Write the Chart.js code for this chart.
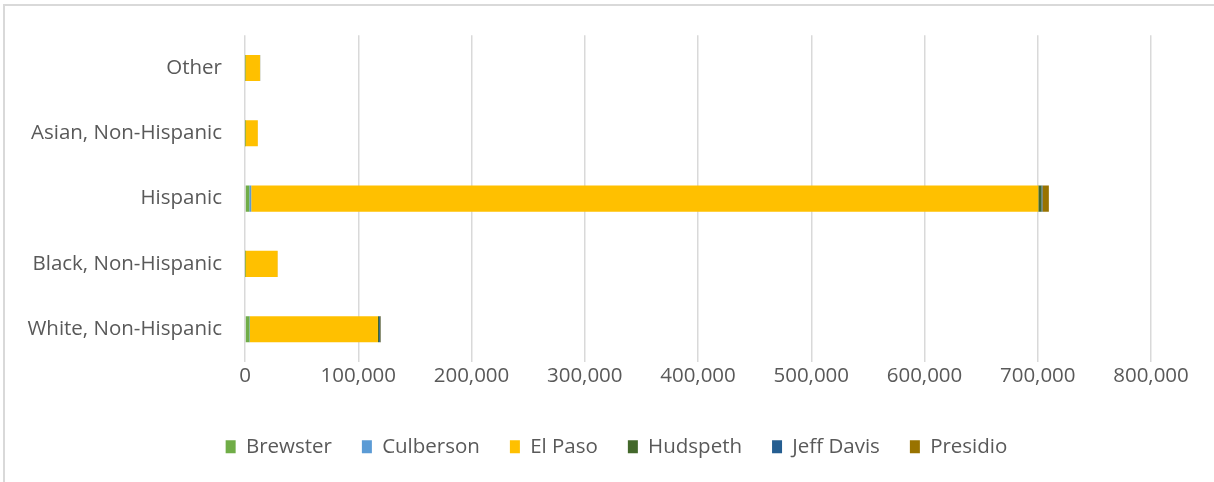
<!DOCTYPE html>
<html>
<head>
<meta charset="utf-8">
<script src="https://cdn.jsdelivr.net/npm/chart.js@4"></script>
<style>
  html, body { margin: 0; padding: 0; background: #fff; }
  #wrap { position: relative; width: 1214px; height: 482px; overflow: hidden; }
  #frame { position: absolute; left: 3px; top: 4px; width: 1300px; height: 600px;
           border-left: 2px solid #d9d9d9; border-top: 2px solid #d9d9d9; }
  #box { position: absolute; left: 0; top: 0; width: 1214px; height: 482px; }
</style>
</head>
<body>
<div id="wrap">
  <div id="frame"></div>
  <div id="box"><canvas id="race-county-bar"></canvas></div>
</div>
<script>
Chart.defaults.font.family = '"Open Sans", Lato, sans-serif'
Chart.defaults.font.size = 20.5
Chart.defaults.color = '#595959'

var groups = ['Other', 'Asian, Non-Hispanic', 'Hispanic', 'Black, Non-Hispanic', 'White, Non-Hispanic']

var brewster  = [200, 100, 3800, 100, 4000]
var culberson = [30, 20, 1700, 30, 400]
var elPaso    = [13000, 11200, 695000, 28700, 113000]
var hudspeth  = [60, 20, 2800, 50, 1000]
var jeffDavis = [40, 20, 800, 20, 1100]
var presidio  = [80, 30, 5700, 40, 500]

var xTicks = [0, 100000, 200000, 300000, 400000, 500000, 600000, 700000, 800000]

var data = {
labels: groups,
datasets: [
{ label: 'Brewster',   backgroundColor: '#70AD47', data: brewster },
{ label: 'Culberson',  backgroundColor: '#5B9BD5', data: culberson },
{ label: 'El Paso',    backgroundColor: '#FFC000', data: elPaso },
{ label: 'Hudspeth',   backgroundColor: '#43682B', data: hudspeth },
{ label: 'Jeff Davis', backgroundColor: '#255E91', data: jeffDavis },
{ label: 'Presidio',   backgroundColor: '#997300', data: presidio },
]
}

// centre the legend row between x = 82 and the right edge of the plot
var legendShift = {
	id: 'legendShift',
	afterLayout: function (chart) {
		chart.legend.left = 82
		chart.legend.right = chart.chartArea.right
	}
}

var context = document.getElementById('race-county-bar').getContext('2d')
var chart = new Chart(context, {
	type: 'bar',
	data: data,
	plugins: [legendShift],
	options: {
		indexAxis: 'y',
		responsive: true,
		maintainAspectRatio: false,
		animation: false,
		datasets: { bar: { categoryPercentage: 0.4, barPercentage: 1.0, borderWidth: 0 } },
		layout: { padding: { left: 0, right: 63, top: 34, bottom: 15 } },
		scales: {
			x: {
				stacked: true,
				min: xTicks[0],
				max: xTicks[xTicks.length - 1],
				afterBuildTicks: function (scale) { scale.ticks = xTicks.map(function (v) { return { value: v } }) },
				afterFit: function (scale) { scale.height += 16 },
				grid: { color: '#d9d9d9', lineWidth: 1.5, drawTicks: false },
				border: { display: false },
				ticks: {
					padding: 2,
					maxRotation: 0,
					callback: function (v) { return v.toLocaleString('en-US') }
				}
			},
			y: {
				stacked: true,
				afterFit: function (scale) { scale.width = 245 },
				grid: { display: false, drawTicks: false },
				border: { display: false },
				ticks: { padding: 23 }
			}
		},
		plugins: {
			tooltip: { enabled: false },
			legend: {
				position: 'bottom',
				labels: { boxWidth: 10, boxHeight: 13, padding: 30 }
			}
		}
	}
})
</script>
</body>
</html>
